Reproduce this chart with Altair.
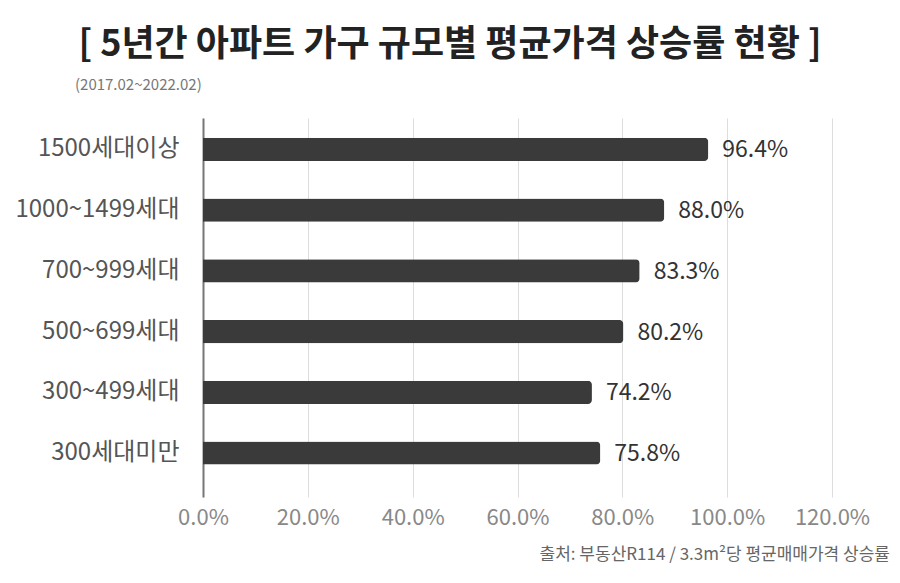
import altair as alt
import pandas as pd

categories = ["1500세대이상", "1000~1499세대", "700~999세대", "500~699세대", "300~499세대", "300세대미만"]
values = [96.4, 88.0, 83.3, 80.2, 74.2, 75.8]
x_ticks = [0, 20, 40, 60, 80, 100, 120]

title_text = "[ 5년간 아파트 가구 규모별 평균가격 상승률 현황 ]"
subtitle_text = "(2017.02~2022.02)"
source_text = "출처: 부동산R114 / 3.3m²당 평균매매가격 상승률"

FONT = "Noto Sans CJK KR"

df = pd.DataFrame({"cat": categories, "val": values})
df["label"] = [f"{v:.1f}%" for v in values]

y_enc = alt.Y("cat:N", sort=categories, title=None,
              scale=alt.Scale(paddingInner=0.62, paddingOuter=0.43, align=0.38),
              axis=alt.Axis(domain=True, domainColor="#777", domainWidth=2, ticks=False,
                            labelPadding=24, labelFontSize=24, labelColor="#555",
                            labelFont=FONT, grid=False))
x_enc = alt.X("val:Q", title=None,
              scale=alt.Scale(domain=[0, 120], nice=False),
              axis=alt.Axis(values=x_ticks, labelExpr="format(datum.value, '.1f') + '%'",
                            domain=False, ticks=False, grid=True, gridColor="#ddd", gridWidth=1,
                            labelFlush=False, labelOverlap=False,
                            labelFontSize=22, labelColor="#888", labelFont=FONT, labelPadding=10))

base = alt.Chart(df)

bars = base.mark_bar(color="#3a3a3a", cornerRadiusEnd=4).encode(y=y_enc, x=x_enc)

labels = base.mark_text(align="left", baseline="middle", dx=14, dy=1, fontSize=23, color="#333",
                        font=FONT).encode(y=alt.Y("cat:N", sort=categories), x="val:Q", text="label:N")

ann = pd.DataFrame({"t": [title_text]})
title = alt.Chart(ann).mark_text(align="center", baseline="middle", fontSize=36, fontWeight="bold",
                                 color="#222", font=FONT).encode(
    x=alt.value(247), y=alt.value(-73), text="t:N")

sub = alt.Chart(pd.DataFrame({"t": [subtitle_text]})).mark_text(
    align="left", baseline="middle", fontSize=15, color="#777", font=FONT).encode(
    x=alt.value(-128), y=alt.value(-33), text="t:N")

src = alt.Chart(pd.DataFrame({"t": [source_text]})).mark_text(
    align="right", baseline="middle", fontSize=17, color="#666", font=FONT).encode(
    x=alt.value(687), y=alt.value(437), text="t:N")

chart = alt.layer(bars, labels, title, sub, src).properties(
    width=629, height=379,
    autosize=alt.AutoSizeParams(type="none"),
    padding={"left": 195, "top": 110, "right": 60, "bottom": 78},
    background="white",
).configure_view(stroke=None)

chart.save("out.html", embed_options={"renderer": "svg", "actions": False})
